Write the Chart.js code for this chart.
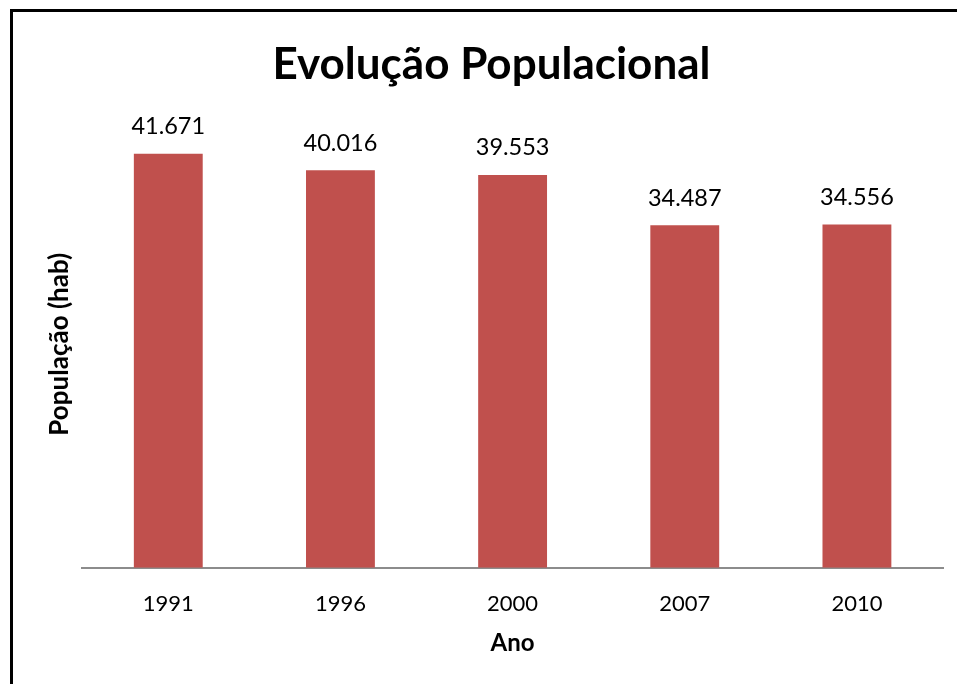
<!DOCTYPE html>
<html>
<head>
<meta charset="utf-8">
<script src="https://cdn.jsdelivr.net/npm/chart.js@4.4.0/dist/chart.umd.min.js"></script>
<style>
  html, body { margin: 0; padding: 0; background: #fff; overflow: hidden; }
  #wrap { position: relative; width: 957px; height: 684px; }
  #frame { position: absolute; left: 10px; top: 9px; width: 2000px; height: 2000px; border: 3px solid #000; box-sizing: border-box; pointer-events: none; }
  canvas { position: absolute; left: 0; top: 0; }
</style>
</head>
<body>
<div id="wrap">
  <canvas id="barChart" width="957" height="684"></canvas>
  <div id="frame"></div>
</div>
<script>
var anos = ["1991", "1996", "2000", "2007", "2010"];
var populacao = [41671, 40016, 39553, 34487, 34556];
var barColor = "#C0504D";

// rotulos com os valores em cima das barras
var valueLabels = {
    id: "valueLabels",
    afterDatasetsDraw: function (chart) {
        var ctx = chart.ctx;
        var meta = chart.getDatasetMeta(0);
        ctx.save();
        ctx.font = "23.5px Lato";
        ctx.fillStyle = "#000";
        ctx.textAlign = "center";
        ctx.textBaseline = "middle";
        meta.data.forEach(function (bar, i) {
            var txt = populacao[i].toLocaleString("pt-BR");
            ctx.fillText(txt, bar.x, bar.y - 27);
        });
        ctx.restore();
    },
};

new Chart("barChart", {
    type: "bar",
    data: {
        labels: anos,
        datasets: [
            {
                backgroundColor: barColor,
                data: populacao,
                categoryPercentage: 1,
                barPercentage: 0.4,
            },
        ],
    },
    options: {
        responsive: false,
        animation: false,
        layout: { padding: { left: 40, right: 14, top: 10, bottom: 26 } },
        plugins: {
            legend: { display: false },
            tooltip: { enabled: false },
            title: {
                display: true,
                text: "Evolução Populacional",
                color: "#000",
                font: { family: "Lato", size: 44, weight: "bold" },
                padding: { top: 28, bottom: 30 },
            },
        },
        scales: {
            x: {
                grid: { display: false, drawTicks: false, tickLength: 0 },
                border: { display: true, color: "#8c8c8c", width: 2 },
                ticks: { color: "#000", font: { family: "Lato", size: 22 }, padding: 23 },
                title: {
                    display: true,
                    text: "Ano",
                    color: "#000",
                    font: { family: "Lato", size: 24, weight: "bold" },
                    padding: { top: -11, bottom: 0 },
                },
            },
            y: {
                min: 0,
                max: 45000,
                grid: { display: false, drawTicks: false, tickLength: 0 },
                border: { display: false },
                ticks: { display: false },
                title: {
                    display: true,
                    text: "População (hab)",
                    color: "#000",
                    font: { family: "Lato", size: 26, weight: "bold" },
                    padding: { top: 4, bottom: 7 },
                },
            },
        },
    },
    plugins: [valueLabels],
});
</script>
</body>
</html>
